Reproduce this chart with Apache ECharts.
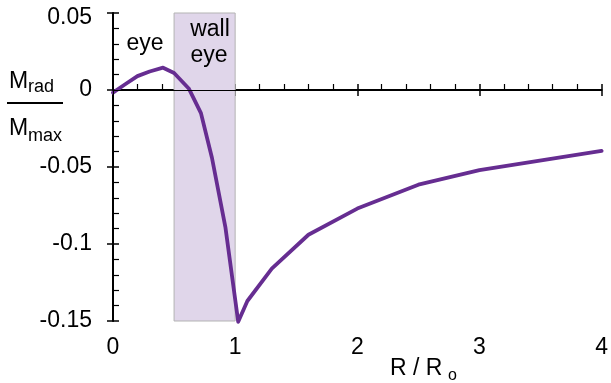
<!DOCTYPE html>
<html>
<head>
<meta charset="utf-8">
<script src="https://cdn.jsdelivr.net/npm/echarts@6/dist/echarts.min.js"></script>
<style>
  html, body { margin: 0; padding: 0; background: #fff; }
  #chart { width: 611px; height: 383px; }
</style>
</head>
<body>
<div id="chart"></div>
<script>
// ---- data ----
const xValues = [0, 0.1, 0.2, 0.3, 0.41, 0.5, 0.62, 0.72, 0.81, 0.92, 1.025, 1.1, 1.3, 1.6, 2.0, 2.5, 3.0, 4.0];
const yValues = [-0.0017, 0.0037, 0.009, 0.012, 0.0145, 0.011, 0.001, -0.015, -0.044, -0.089, -0.1505, -0.137, -0.116, -0.094, -0.077, -0.0615, -0.052, -0.0395];
const eyewallRange = [0.5, 1.0];
const xTickValues = [0, 1, 2, 3, 4];
const xTickLabels = ['0', '1', '2', '3', '4'];
const yTickValues = [-0.15, -0.1, -0.05, 0, 0.05];
const yTickLabels = ['-0.15', '-0.1', '-0.05', '0', '0.05'];

const FONT = "'Liberation Sans', Arial, Helvetica, sans-serif";
const lineColor = '#662d91';

function labelFor(values, labels) {
  return function (v) {
    for (let i = 0; i < values.length; i++) {
      if (Math.abs(v - values[i]) < 1e-9) {
        if (values === yTickValues && i === values.length - 1) return '{t|' + labels[i] + '}';
        return labels[i];
      }
    }
    return '';
  };
}

const chart = echarts.init(document.getElementById('chart'), null, { renderer: 'canvas' });

const xBase = { type: 'value', min: 0, max: 4, interval: 1, splitLine: { show: false } };
const yBase = { type: 'value', min: -0.15, max: 0.05, interval: 0.05, splitLine: { show: false } };

const option = {
  animation: false,
  backgroundColor: '#fff',
  grid: { left: 113, right: 2, top: 13, bottom: 62, containLabel: false },
  xAxis: [
    Object.assign({}, xBase, {
      position: 'bottom',
      axisLine: { show: true, lineStyle: { color: '#000', width: 2 } },
      axisTick: { show: true, inside: false, length: 6, lineStyle: { color: '#000', width: 1.5 } },
      axisLabel: { show: true, margin: 15, fontSize: 23, color: '#000', fontFamily: FONT,
                   formatter: labelFor(xTickValues, xTickLabels) }
    }),
    Object.assign({}, xBase, {
      position: 'bottom',
      axisLine: { show: false },
      axisTick: { show: true, inside: false, length: -6, lineStyle: { color: '#000', width: 1.5 } },
      minorTick: { show: true, splitNumber: 5, length: -6, lineStyle: { color: '#000', width: 1.2 } },
      axisLabel: { show: false }
    }),
    Object.assign({}, xBase, {
      position: 'top', z: 5,
      axisLine: { show: true, lineStyle: { color: '#000', width: 1 } },
      axisTick: { show: false }, axisLabel: { show: false }
    })
  ],
  yAxis: [
    Object.assign({}, yBase, {
      position: 'left',
      axisLine: { show: true, lineStyle: { color: '#000', width: 2 } },
      axisTick: { show: true, inside: false, length: 6, lineStyle: { color: '#000', width: 1.5 } },
      axisLabel: { show: true, margin: 21, fontSize: 23, color: '#000', fontFamily: FONT,
                   formatter: labelFor(yTickValues, yTickLabels),
                   rich: { t: { fontSize: 23, fontFamily: FONT, color: '#000', padding: [9, 0, 0, 0] } } }
    }),
    Object.assign({}, yBase, {
      position: 'left',
      axisLine: { show: false },
      axisTick: { show: true, inside: false, length: -6, lineStyle: { color: '#000', width: 1.5 } },
      minorTick: { show: true, splitNumber: 5, length: -6, lineStyle: { color: '#000', width: 1.2 } },
      axisLabel: { show: false }
    }),
    Object.assign({}, yBase, {
      position: 'right', z: 5,
      axisLine: { show: true, lineStyle: { color: '#000', width: 1 } },
      axisTick: { show: false }, axisLabel: { show: false }
    })
  ],
  series: [
    {
      type: 'line', xAxisIndex: 0, yAxisIndex: 0, data: [], z: 1, silent: true,
      markArea: {
        silent: true,
        itemStyle: { color: '#e0d6ea', borderColor: '#b3b3b3', borderWidth: 1 },
        label: { show: false },
        data: [[{ xAxis: eyewallRange[0] }, { xAxis: eyewallRange[1] }]]
      },
      markLine: {
        silent: true, symbol: ['none', 'none'],
        label: { show: false },
        lineStyle: { color: '#000', width: 1, type: 'solid' },
        data: [{ yAxis: 0 }]
      }
    },
    {
      type: 'line', xAxisIndex: 0, yAxisIndex: 0, z: 3,
      data: xValues.map((x, i) => [x, yValues[i]]),
      showSymbol: false, clip: false,
      lineStyle: { color: lineColor, width: 3.8, join: 'round', cap: 'round' }
    }
  ],
  graphic: [
    { type: 'text', x: 145, y: 44, z: 10, style: { text: 'eye', font: '23px ' + FONT, fill: '#000', textAlign: 'center', textVerticalAlign: 'middle' } },
    { type: 'text', x: 210, y: 30, z: 10, style: { text: 'wall', font: '23px ' + FONT, fill: '#000', textAlign: 'center', textVerticalAlign: 'middle' } },
    { type: 'text', x: 209, y: 56, z: 10, style: { text: 'eye', font: '23px ' + FONT, fill: '#000', textAlign: 'center', textVerticalAlign: 'middle' } },
    // y-axis title: M_rad / M_max
    { type: 'text', x: 9, y: 82, style: { text: 'M', font: '23px ' + FONT, fill: '#000', textAlign: 'left', textVerticalAlign: 'middle' } },
    { type: 'text', x: 28, y: 87, style: { text: 'rad', font: '18px ' + FONT, fill: '#000', textAlign: 'left', textVerticalAlign: 'middle' } },
    { type: 'line', shape: { x1: 7, y1: 103, x2: 63, y2: 103 }, style: { stroke: '#000', lineWidth: 2 } },
    { type: 'text', x: 9, y: 129, style: { text: 'M', font: '23px ' + FONT, fill: '#000', textAlign: 'left', textVerticalAlign: 'middle' } },
    { type: 'text', x: 28, y: 136, style: { text: 'max', font: '18px ' + FONT, fill: '#000', textAlign: 'left', textVerticalAlign: 'middle' } },
    // x-axis title: R / R_o
    { type: 'text', x: 390, y: 369, style: { text: 'R / R', font: '23px ' + FONT, fill: '#000', textAlign: 'left', textVerticalAlign: 'middle' } },
    { type: 'text', x: 448, y: 376, style: { text: 'o', font: '16px ' + FONT, fill: '#000', textAlign: 'left', textVerticalAlign: 'middle' } }
  ]
};

chart.setOption(option);
</script>
</body>
</html>
